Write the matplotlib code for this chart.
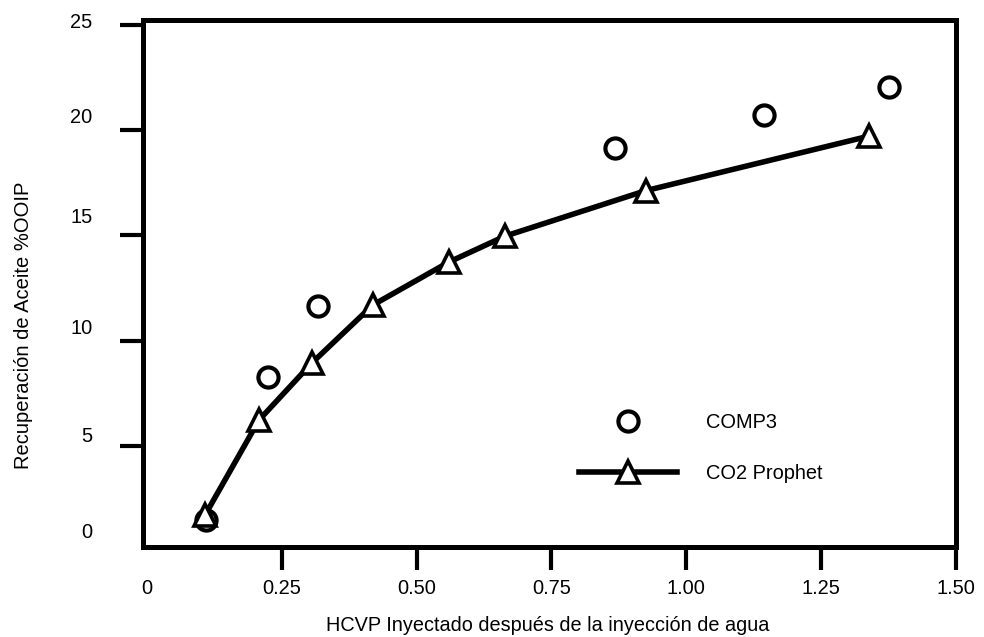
import matplotlib
matplotlib.use("Agg")
import matplotlib.pyplot as plt
import matplotlib.transforms as mtransforms

plt.rcParams['font.family'] = ['Liberation Sans', 'DejaVu Sans']

# Data
comp3_x = [0.110, 0.225, 0.317, 0.867, 1.145, 1.376]
comp3_y = [1.49, 8.27, 11.64, 19.14, 20.70, 22.03]
prophet_x = [0.108, 0.208, 0.306, 0.419, 0.560, 0.664, 0.925, 1.339]
prophet_y = [1.72, 6.23, 8.94, 11.69, 13.73, 14.96, 17.12, 19.71]

xticks = [0, 0.25, 0.50, 0.75, 1.00, 1.25, 1.50]
xticklabels = ['0', '0.25', '0.50', '0.75', '1.00', '1.25', '1.50']
yticks = [5, 10, 15, 20, 25]
yticklabels = ['5', '10', '15', '20', '25']

xlabel = 'HCVP Inyectado después de la inyección de agua'
ylabel = 'Recuperación de Aceite %OOIP'

W, H = 984, 637
fig = plt.figure(figsize=(W / 100, H / 100), dpi=100)
ax = fig.add_axes([143 / W, (H - 546.7) / H, (956 - 143) / W, (546.7 - 20) / H])

ax.plot(comp3_x, comp3_y, linestyle='none', marker='o', markersize=14.5,
        markerfacecolor='white', markeredgecolor='black', markeredgewidth=3,
        label='COMP3', zorder=3)
ax.plot(prophet_x, prophet_y, color='black', linewidth=4, marker='^',
        markersize=16, markerfacecolor='white', markeredgecolor='black',
        markeredgewidth=2.6, label='CO2 Prophet', zorder=4)

ax.set_xlim(-0.007, 1.5)
ax.set_ylim(0.22, 25.22)

for s in ax.spines.values():
    s.set_linewidth(3.6)
    s.set_color('black')

ax.set_xticks(xticks)
ax.set_xticklabels(xticklabels)
ax.set_yticks(yticks)
ax.set_yticklabels(yticklabels)
ax.tick_params(axis='both', direction='out', length=16.5, width=3, labelsize=14.4,
               color='black')
ax.tick_params(axis='x', pad=7)
ax.tick_params(axis='y', pad=20)
ax.xaxis.get_major_ticks()[0].tick1line.set_visible(False)

# y tick labels sit above their ticks in the reference
yoffsets = [11, 14, 20, 14, 4]
for lab, off in zip(ax.get_yticklabels(), yoffsets):
    lab.set_transform(lab.get_transform() +
                      mtransforms.ScaledTranslation(0, off / 100, fig.dpi_scale_trans))

# the "0" label on the y axis (tick itself falls just below the frame)
ax.text(92.5 / W, (H - 533) / H, '0', transform=fig.transFigure, ha='right',
        va='center', fontsize=14.4)

ax.set_xlabel(xlabel, fontsize=14.3)
ax.xaxis.set_label_coords(0.498, -0.149)
ax.xaxis.label.set_va('center')
ax.set_ylabel(ylabel, fontsize=14.5)
ax.yaxis.set_label_coords((23 - 143) / 813, (546.7 - 325) / 526.7)
ax.yaxis.label.set_va('center')

leg = ax.legend(loc='center', bbox_to_anchor=((701 - 143) / 813, (546.7 - 448) / 526.7),
                frameon=False, fontsize=14.4, handlelength=4.9, handletextpad=1.45,
                labelspacing=1.63, borderpad=0, borderaxespad=0)

fig.savefig('out.png', dpi=100, facecolor='white')
